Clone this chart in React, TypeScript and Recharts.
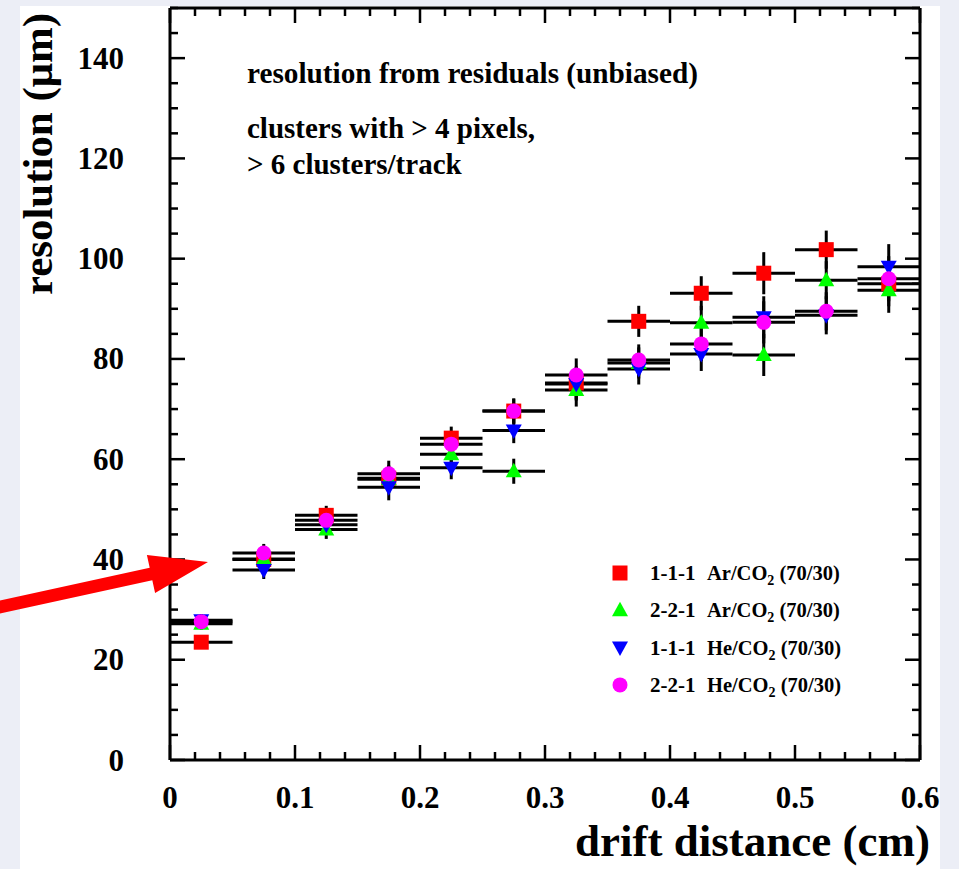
import React from 'react';
import { ScatterChart, Scatter, XAxis, YAxis, ErrorBar, Legend } from 'recharts';

// ---- data ----
const BIN_CENTERS = [0.025, 0.075, 0.125, 0.175, 0.225, 0.275, 0.325, 0.375, 0.425, 0.475, 0.525, 0.575];
const BIN_HALF_WIDTH = 0.025;
const Y_ERRORS = [1.2, 1.8, 1.9, 2.6, 2.3, 2.5, 3.3, 3.1, 3.4, 4.2, 3.8, 4.5];

const AR_111 = [23.5, 40.0, 48.8, 56.2, 64.2, 69.6, 75.2, 87.5, 93.1, 97.1, 101.8, 95.0];
const AR_221 = [27.2, 40.1, 46.0, 56.0, 61.0, 57.6, 73.8, 79.2, 87.2, 80.8, 95.7, 93.7];
const HE_111 = [27.9, 37.9, 46.9, 54.4, 58.3, 65.7, 75.0, 78.0, 81.0, 88.3, 88.7, 98.4];
const HE_221 = [27.6, 41.3, 47.8, 57.1, 63.0, 69.6, 76.8, 79.8, 83.0, 87.3, 89.5, 96.0];

const X_MAJOR_LABELS = ['0', '0.1', '0.2', '0.3', '0.4', '0.5', '0.6'];
const Y_MAJOR_LABELS = ['0', '20', '40', '60', '80', '100', '120', '140'];
const X_TICKS = Array.from({ length: 31 }, (_, i) => (i * 2) / 100);
const Y_TICKS = Array.from({ length: 31 }, (_, i) => i * 5);

const SERIES_NAMES = ['1-1-1', '2-2-1', '1-1-1', '2-2-1'];
const SERIES_GAS = ['Ar', 'Ar', 'He', 'He'];
const SERIES_COLORS = ['#ff0000', '#00ff00', '#0000ff', '#ff00ff'];
const SERIES_VALUES = [AR_111, AR_221, HE_111, HE_221];

const ANNOTATION_LINES = ['resolution from residuals (unbiased)', 'clusters with > 4 pixels,', '> 6 clusters/track'];

const FONT = '"Liberation Serif", "Times New Roman", Times, serif';

const makeData = (vals: number[]) =>
  BIN_CENTERS.map((x, i) => ({ x, y: vals[i], ex: BIN_HALF_WIDTH, ey: Y_ERRORS[i] }));

// ---- marker shapes ----
const drawMarker = (kind: number, cx: number, cy: number, key?: string) => {
  const c = SERIES_COLORS[kind];
  if (kind === 0) return <rect key={key} x={cx - 7.5} y={cy - 7.5} width={15} height={15} fill={c} />;
  if (kind === 1)
    return <polygon key={key} points={`${cx},${cy - 8.5} ${cx - 8},${cy + 6} ${cx + 8},${cy + 6}`} fill={c} />;
  if (kind === 2)
    return <polygon key={key} points={`${cx},${cy + 8.5} ${cx - 8},${cy - 6} ${cx + 8},${cy - 6}`} fill={c} />;
  return <circle key={key} cx={cx} cy={cy} r={7.5} fill={c} />;
};

const makeShape = (kind: number) => (props: any) => {
  const { cx, cy } = props;
  if (cx == null || cy == null) return <g />;
  return drawMarker(kind, cx, cy);
};

const NoShape = () => <g />;

// ---- ticks ----
const isMajorX = (v: number) => Math.round(v * 100) % 10 === 0;
const isMajorY = (v: number) => v % 20 === 0;
const MAJ = 15;
const MIN = 8;

const BottomTick = (props: any) => {
  const { x, y, payload } = props;
  const v = payload.value;
  const major = isMajorX(v);
  const idx = Math.round(v * 10);
  return (
    <g>
      <line x1={x} y1={y} x2={x} y2={y - (major ? MAJ : MIN)} stroke="#000" strokeWidth={2.5} />
      {major && (
        <text x={x} y={y + 48} textAnchor="middle" fontFamily={FONT} fontWeight="bold" fontSize={31} fill="#000">
          {X_MAJOR_LABELS[idx]}
        </text>
      )}
    </g>
  );
};

const TopTick = (props: any) => {
  const { x, y, payload } = props;
  const major = isMajorX(payload.value);
  return <line x1={x} y1={y} x2={x} y2={y + (major ? MAJ : MIN)} stroke="#000" strokeWidth={2.5} />;
};

const LeftTick = (props: any) => {
  const { x, y, payload } = props;
  const v = payload.value;
  const major = isMajorY(v);
  return (
    <g>
      <line x1={x} y1={y} x2={x + (major ? MAJ : MIN)} y2={y} stroke="#000" strokeWidth={2.5} />
      {major && (
        <text x={x - 46} y={y + 10.5} textAnchor="end" fontFamily={FONT} fontWeight="bold" fontSize={31} fill="#000">
          {Y_MAJOR_LABELS[v / 20]}
        </text>
      )}
    </g>
  );
};

const RightTick = (props: any) => {
  const { x, y, payload } = props;
  const major = isMajorY(payload.value);
  return <line x1={x} y1={y} x2={x - (major ? MAJ : MIN)} y2={y} stroke="#000" strokeWidth={2.5} />;
};

// ---- legend ----
const LegendContent = () => (
  <svg width={320} height={150} style={{ display: 'block', overflow: 'visible' }}>
    {SERIES_NAMES.map((name, i) => {
      const cy = 23 + i * 37.3;
      return (
        <g key={i}>
          {drawMarker(i, 20, cy)}
          <text x={50} y={cy + 7} fontFamily={FONT} fontWeight="bold" fontSize={21} fill="#000">
            {name}
          </text>
          <text x={107} y={cy + 7} fontFamily={FONT} fontWeight="bold" fontSize={20.5} fill="#000">
            {SERIES_GAS[i]}/CO
            <tspan dy={5} fontSize={14}>2</tspan>
            <tspan dy={-5}> (70/30)</tspan>
          </text>
        </g>
      );
    })}
  </svg>
);

const axisLine = { stroke: '#000', strokeWidth: 3 };

export default function App() {
  return (
    <div
      style={{
        position: 'absolute',
        left: 0,
        top: 0,
        width: 959,
        height: 869,
        overflow: 'hidden',
        background: '#eceef6',
      }}
    >
      <div style={{ position: 'absolute', left: 20, top: 6, width: 920, height: 863, background: '#ffffff' }} />
      <div style={{ position: 'absolute', left: 0, top: 0 }}>
        <ScatterChart width={959} height={869} margin={{ top: 7, right: 38, left: 0, bottom: 0 }}>
          <XAxis
            dataKey="x"
            type="number"
            domain={[0, 0.6]}
            allowDataOverflow
            ticks={X_TICKS}
            interval={0}
            height={109}
            tickSize={0}
            tickMargin={0}
            tickLine={false}
            axisLine={axisLine}
            tick={BottomTick}
          />
          <XAxis
            xAxisId="top"
            orientation="top"
            dataKey="x"
            type="number"
            domain={[0, 0.6]}
            allowDataOverflow
            ticks={X_TICKS}
            interval={0}
            height={1}
            tickSize={0}
            tickMargin={0}
            tickLine={false}
            axisLine={axisLine}
            tick={TopTick}
          />
          <YAxis
            dataKey="y"
            type="number"
            domain={[0, 150]}
            allowDataOverflow
            ticks={Y_TICKS}
            interval={0}
            width={170}
            tickSize={0}
            tickMargin={0}
            tickLine={false}
            axisLine={axisLine}
            tick={LeftTick}
          />
          <YAxis
            yAxisId="right"
            orientation="right"
            dataKey="y"
            type="number"
            domain={[0, 150]}
            allowDataOverflow
            ticks={Y_TICKS}
            interval={0}
            width={1}
            tickSize={0}
            tickMargin={0}
            tickLine={false}
            axisLine={axisLine}
            tick={RightTick}
          />
          {SERIES_VALUES.map((vals, i) => (
            <Scatter
              key={`err-${i}`}
              name={`err-${i}`}
              data={makeData(vals)}
              shape={NoShape}
              legendType="none"
              isAnimationActive={false}
            >
              <ErrorBar dataKey="ex" direction="x" width={0} stroke="#000" strokeWidth={3} isAnimationActive={false} />
              <ErrorBar dataKey="ey" direction="y" width={0} stroke="#000" strokeWidth={3} isAnimationActive={false} />
            </Scatter>
          ))}
          {SERIES_VALUES.map((vals, i) => (
            <Scatter
              key={`pts-${i}`}
              name={`${SERIES_NAMES[i]} ${SERIES_GAS[i]}/CO2 (70/30)`}
              data={makeData(vals)}
              fill={SERIES_COLORS[i]}
              shape={makeShape(i)}
              isAnimationActive={false}
            />
          ))}
          <Legend
            layout="vertical"
            align="center"
            verticalAlign="middle"
            content={LegendContent}
            wrapperStyle={{ left: 600, top: 550, width: 320, height: 150, right: 'auto', bottom: 'auto' }}
          />
        </ScatterChart>
      </div>
      <svg
        width={959}
        height={869}
        style={{ position: 'absolute', left: 0, top: 0, pointerEvents: 'none' }}
      >
        <text x={247} y={83} fontFamily={FONT} fontWeight="bold" fontSize={29} fill="#000" textLength={451} lengthAdjust="spacingAndGlyphs">
          {ANNOTATION_LINES[0]}
        </text>
        <text x={247} y={138} fontFamily={FONT} fontWeight="bold" fontSize={29} fill="#000">
          {ANNOTATION_LINES[1]}
        </text>
        <text x={247} y={174} fontFamily={FONT} fontWeight="bold" fontSize={29} fill="#000">
          {ANNOTATION_LINES[2]}
        </text>
        <text
          transform="translate(52,154) rotate(-90)"
          textAnchor="middle"
          fontFamily={FONT}
          fontWeight="bold"
          fontSize={43}
          fill="#000"
          textLength={282}
          lengthAdjust="spacingAndGlyphs"
        >
          resolution (μm)
        </text>
        <text
          x={930}
          y={856}
          textAnchor="end"
          fontFamily={FONT}
          fontWeight="bold"
          fontSize={45}
          fill="#000"
        >
          drift distance (cm)
        </text>
        <polygon
          points="-21.3,605.1 149.7,567.8 146.9,555 208,562 155.1,593 152.3,580.2 -18.7,617.5"
          fill="#ff0000"
        />
      </svg>
    </div>
  );
}
